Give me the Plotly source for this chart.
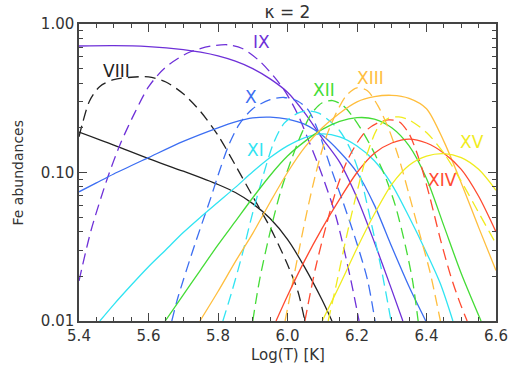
import plotly.graph_objects as go

# ---------------- data ----------------
# Fe VIII  (k = kappa, solid ; m = Maxwellian, dashed)
viii_k_x = [5.4, 5.5, 5.6, 5.7, 5.8, 5.85, 5.9, 5.95, 6.0, 6.05, 6.1, 6.128]
viii_k_y = [0.187, 0.153, 0.124, 0.102, 0.083, 0.0733, 0.0617, 0.049, 0.0355, 0.0229, 0.0138, 0.01]
viii_m_x = [5.4, 5.41, 5.43, 5.46, 5.5, 5.55, 5.6, 5.65, 5.7, 5.75, 5.8, 5.85, 5.9, 5.95, 6.0, 6.03, 6.05]
viii_m_y = [0.174, 0.214, 0.302, 0.38, 0.422, 0.438, 0.44, 0.407, 0.339, 0.257, 0.178, 0.112, 0.069, 0.0427, 0.024, 0.0158, 0.01]
# Fe IX
ix_k_x = [5.4, 5.5, 5.6, 5.7, 5.75, 5.8, 5.85, 5.9, 5.95, 6.0, 6.05, 6.1, 6.15, 6.2, 6.25, 6.3, 6.332]
ix_k_y = [0.711, 0.716, 0.705, 0.673, 0.646, 0.61, 0.562, 0.501, 0.427, 0.347, 0.251, 0.17, 0.1175, 0.0676, 0.0339, 0.0162, 0.01]
ix_m_x = [5.4, 5.435, 5.483, 5.52, 5.56, 5.6, 5.647, 5.714, 5.78, 5.83, 5.87, 5.92, 5.97, 6.0, 6.03, 6.06, 6.1, 6.14, 6.18, 6.206]
ix_m_y = [0.0186, 0.041, 0.0933, 0.158, 0.251, 0.377, 0.506, 0.64, 0.71, 0.724, 0.684, 0.562, 0.417, 0.331, 0.245, 0.166, 0.0955, 0.05, 0.02, 0.01]
# Fe X
x_k_x = [5.4, 5.45, 5.5, 5.6, 5.7, 5.8, 5.85, 5.9, 5.95, 6.0, 6.05, 6.1, 6.15, 6.2, 6.25, 6.3, 6.35, 6.398]
x_k_y = [0.0741, 0.0851, 0.0977, 0.126, 0.162, 0.2, 0.219, 0.233, 0.236, 0.229, 0.211, 0.178, 0.138, 0.1, 0.0603, 0.0316, 0.017, 0.01]
x_m_x = [5.667, 5.685, 5.734, 5.78, 5.8, 5.83, 5.86, 5.9, 5.95, 5.99, 6.03, 6.06, 6.09, 6.125, 6.16, 6.2, 6.23, 6.252]
x_m_y = [0.01, 0.0145, 0.0331, 0.0684, 0.0955, 0.151, 0.209, 0.269, 0.309, 0.32, 0.302, 0.263, 0.186, 0.107, 0.063, 0.0331, 0.019, 0.01]
# Fe XI
xi_k_x = [5.46, 5.5, 5.55, 5.6, 5.65, 5.7, 5.75, 5.8, 5.85, 5.9, 5.95, 6.0, 6.05, 6.1, 6.15, 6.2, 6.25, 6.3, 6.35, 6.4, 6.44, 6.476]
xi_k_y = [0.01, 0.0129, 0.0174, 0.0232, 0.0302, 0.0394, 0.0501, 0.0631, 0.0794, 0.101, 0.126, 0.151, 0.172, 0.182, 0.174, 0.151, 0.12, 0.0832, 0.0501, 0.0288, 0.0178, 0.01]
xi_m_x = [5.814, 5.84, 5.87, 5.9, 5.93, 5.96, 5.99, 6.03, 6.06, 6.09, 6.12, 6.15, 6.18, 6.21, 6.24, 6.27, 6.298]
xi_m_y = [0.01, 0.0158, 0.0282, 0.0537, 0.0955, 0.158, 0.214, 0.251, 0.26, 0.251, 0.224, 0.191, 0.145, 0.0933, 0.0468, 0.0224, 0.01]
# Fe XII
xii_k_x = [5.648, 5.7, 5.75, 5.8, 5.85, 5.9, 5.95, 6.0, 6.05, 6.1, 6.15, 6.2, 6.25, 6.3, 6.35, 6.4, 6.45, 6.5, 6.557]
xii_k_y = [0.01, 0.015, 0.0221, 0.0325, 0.0468, 0.0676, 0.0955, 0.129, 0.162, 0.195, 0.221, 0.234, 0.229, 0.2, 0.151, 0.0912, 0.0437, 0.0209, 0.01]
xii_m_x = [5.9, 5.92, 5.95, 5.98, 6.01, 6.04, 6.07, 6.1, 6.13, 6.16, 6.19, 6.22, 6.25, 6.28, 6.31, 6.34, 6.36, 6.376]
xii_m_y = [0.01, 0.0191, 0.0398, 0.0741, 0.12, 0.182, 0.251, 0.295, 0.305, 0.282, 0.234, 0.182, 0.135, 0.0955, 0.0603, 0.0316, 0.0186, 0.01]
# Fe XIII
xiii_k_x = [5.748, 5.8, 5.85, 5.9, 5.95, 6.0, 6.05, 6.1, 6.15, 6.2, 6.25, 6.3, 6.35, 6.4, 6.45, 6.5, 6.55, 6.6]
xiii_k_y = [0.01, 0.0158, 0.0251, 0.0389, 0.0631, 0.1, 0.148, 0.2, 0.251, 0.299, 0.324, 0.331, 0.316, 0.269, 0.162, 0.0851, 0.0427, 0.0219]
xiii_m_x = [5.993, 6.02, 6.05, 6.08, 6.11, 6.14, 6.17, 6.2, 6.23, 6.26, 6.29, 6.32, 6.35, 6.38, 6.41, 6.44]
xiii_m_y = [0.01, 0.0209, 0.0468, 0.0955, 0.17, 0.251, 0.331, 0.372, 0.355, 0.282, 0.2, 0.126, 0.0708, 0.0389, 0.0214, 0.01]
# Fe XIV
xiv_k_x = [5.967, 6.0, 6.05, 6.1, 6.15, 6.2, 6.25, 6.3, 6.35, 6.4, 6.45, 6.5, 6.55, 6.6]
xiv_k_y = [0.01, 0.0148, 0.0257, 0.0422, 0.0661, 0.1, 0.135, 0.158, 0.168, 0.158, 0.135, 0.105, 0.0692, 0.0398]
xiv_m_x = [6.05, 6.08, 6.11, 6.14, 6.17, 6.2, 6.23, 6.26, 6.29, 6.32, 6.35, 6.38, 6.41, 6.44, 6.47, 6.495, 6.517]
xiv_m_y = [0.01, 0.0224, 0.0427, 0.0759, 0.1175, 0.158, 0.195, 0.216, 0.226, 0.221, 0.182, 0.12, 0.0676, 0.0355, 0.02, 0.0135, 0.01]
# Fe XV
xv_k_x = [6.1, 6.15, 6.2, 6.25, 6.3, 6.35, 6.4, 6.45, 6.5, 6.55, 6.6]
xv_k_y = [0.01, 0.0174, 0.0309, 0.0525, 0.0832, 0.112, 0.129, 0.134, 0.126, 0.105, 0.0759]
xv_m_x = [6.117, 6.14, 6.17, 6.2, 6.23, 6.26, 6.29, 6.32, 6.35, 6.4, 6.45, 6.5, 6.55, 6.6]
xv_m_y = [0.01, 0.0174, 0.0372, 0.0741, 0.135, 0.2, 0.232, 0.237, 0.226, 0.186, 0.135, 0.0871, 0.0537, 0.0331]

ion_names = ["VIII", "IX", "X", "XI", "XII", "XIII", "XIV", "XV"]
ion_colors = ["#222222", "#6E30D8", "#3C6EF2", "#30E4F2", "#44DC36", "#FFBE3E", "#FF4A30", "#F0EC1E"]

kappa_series = [(viii_k_x, viii_k_y), (ix_k_x, ix_k_y), (x_k_x, x_k_y), (xi_k_x, xi_k_y),
                (xii_k_x, xii_k_y), (xiii_k_x, xiii_k_y), (xiv_k_x, xiv_k_y), (xv_k_x, xv_k_y)]
maxw_series = [(viii_m_x, viii_m_y), (ix_m_x, ix_m_y), (x_m_x, x_m_y), (xi_m_x, xi_m_y),
               (xii_m_x, xii_m_y), (xiii_m_x, xiii_m_y), (xiv_m_x, xiv_m_y), (xv_m_x, xv_m_y)]

# label anchor points (x, log10 y)
label_pos = {"VIII": (5.509, -0.316), "IX": (5.924, -0.121), "X": (5.895, -0.49),
             "XI": (5.909, -0.848), "XII": (6.105, -0.444), "XIII": (6.24, -0.364),
             "XIV": (6.445, -1.05), "XV": (6.53, -0.795)}

FONT = "DejaVu Sans"
TXT = "#333333"
AX = "#444444"

fig = go.Figure()
for name, col, (kx, ky), (mx, my) in zip(ion_names, ion_colors, kappa_series, maxw_series):
    fig.add_trace(go.Scatter(x=mx, y=my, mode="lines",
                             line=dict(color=col, width=1.3, dash="11px,6px", shape="spline", smoothing=0.8),
                             showlegend=False, hoverinfo="skip"))
    fig.add_trace(go.Scatter(x=kx, y=ky, mode="lines",
                             line=dict(color=col, width=1.3, shape="spline", smoothing=0.8),
                             showlegend=False, hoverinfo="skip"))

for name, col in zip(ion_names, ion_colors):
    lx, ly = label_pos[name]
    fig.add_annotation(x=lx, y=ly, text=name, showarrow=False, xanchor="center", yanchor="middle",
                       font=dict(family=FONT, size=17, color=col))

# axis titles placed as paper annotations
fig.add_annotation(xref="paper", yref="paper", x=0.5, y=-(355 - 321) / 297, text="Log(T) [K]",
                   showarrow=False, xanchor="center", yanchor="middle",
                   font=dict(family=FONT, size=15, color=TXT))
fig.add_annotation(xref="paper", yref="paper", x=-(79 - 17) / 417, y=0.5, text="Fe abundances",
                   showarrow=False, xanchor="center", yanchor="middle", textangle=-90,
                   font=dict(family=FONT, size=14, color=TXT))

minor_y = [v * 10 ** e for e in (-2, -1) for v in range(2, 10)]

fig.update_layout(
    width=508, height=367,
    margin=dict(l=79, r=12, t=24, b=46, autoexpand=False),
    paper_bgcolor="white", plot_bgcolor="white",
    font=dict(family=FONT, size=15, color=TXT),
    title=dict(text="κ = 2", x=287.5 / 508, xanchor="center", y=1 - 12 / 367, yanchor="middle",
               yref="container", font=dict(family=FONT, size=17, color=TXT)),
    xaxis=dict(range=[5.4, 6.6], tickvals=[5.4, 5.6, 5.8, 6.0, 6.2, 6.4, 6.6],
               ticktext=["5.4", "5.6", "5.8", "6.0", "6.2", "6.4", "6.6"],
               ticks="inside", ticklen=8, tickwidth=1, tickcolor=AX,
               showline=True, linecolor=AX, linewidth=1.5, mirror="allticks",
               showgrid=False, zeroline=False, automargin=False,
               minor=dict(dtick=0.05, tick0=5.4, ticks="inside", ticklen=4, tickcolor=AX, showgrid=False),
               tickfont=dict(size=15, color=TXT)),
    yaxis=dict(type="log", range=[-2, 0], tickvals=[0.01, 0.1, 1.0], ticktext=["0.01", "0.10", "1.00"],
               ticks="inside", ticklen=8, tickwidth=1, tickcolor=AX,
               showline=True, linecolor=AX, linewidth=1.5, mirror="allticks",
               showgrid=False, zeroline=False, automargin=False,
               minor=dict(tickmode="array", tickvals=minor_y, ticks="inside", ticklen=4, tickcolor=AX, showgrid=False),
               tickfont=dict(size=15, color=TXT)),
)

fig.write_html("out.html")
